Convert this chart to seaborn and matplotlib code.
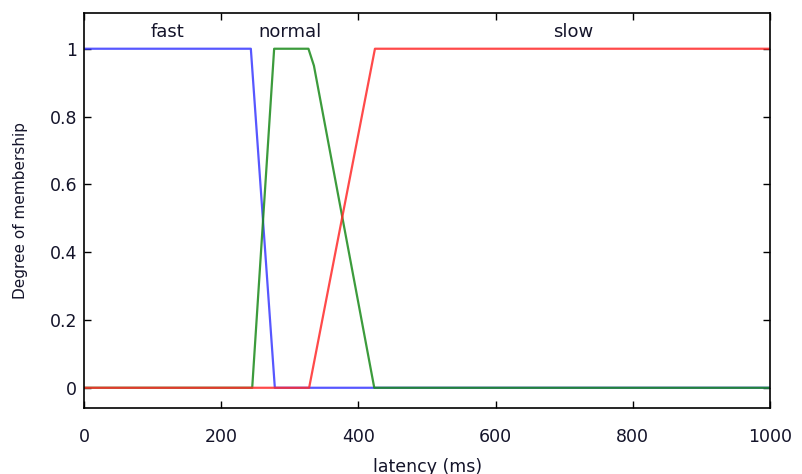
import numpy as np
import pandas as pd
import matplotlib
matplotlib.use("Agg")
import matplotlib.pyplot as plt
import seaborn as sns

# membership function breakpoints (latency in ms, degree)
fast_x = [0, 243, 278, 1000]
fast_y = [1, 1, 0, 0]
normal_x = [0, 245, 277, 327, 335, 423, 1000]
normal_y = [0, 0, 1, 1, 0.95, 0, 0]
slow_x = [0, 328, 424, 1000]
slow_y = [0, 0, 1, 1]

names = ["fast", "normal", "slow"]
colors = ["#3a3aff", "#1a8a1a", "#ff2a2a"]
label_x = [122, 300, 713]

sns.set_style("ticks")
plt.rcParams["font.family"] = ["DejaVu Sans"]
txt = "#14142a"

df = pd.concat([
    pd.DataFrame({"latency": fast_x, "degree": fast_y, "mf": "fast"}),
    pd.DataFrame({"latency": normal_x, "degree": normal_y, "mf": "normal"}),
    pd.DataFrame({"latency": slow_x, "degree": slow_y, "mf": "slow"}),
])

fig = plt.figure(figsize=(8.02, 4.74), dpi=100)
ax = fig.add_axes([0.105, 0.139, 0.855, 0.834])

sns.lineplot(data=df, x="latency", y="degree", hue="mf", hue_order=names,
             palette=colors, sort=False, estimator=None, linewidth=1.6,
             alpha=0.85, legend=False, ax=ax)

for n, lx in zip(names, label_x):
    ax.text(lx, 1.05, n, ha="center", va="center", fontsize=13, color=txt)

ax.set_xlim(0, 1000)
ax.set_ylim(-0.06, 1.106)
ax.set_xticks([0, 200, 400, 600, 800, 1000])
ax.set_yticks([0, 0.2, 0.4, 0.6, 0.8, 1])
ax.set_yticklabels(["0", "0.2", "0.4", "0.6", "0.8", "1"])
ax.tick_params(direction="in", length=5, width=1, top=True, right=True,
               labelsize=12.5, colors="black", labelcolor=txt)
ax.tick_params(axis="x", pad=14)
ax.tick_params(axis="y", pad=5)
for s in ax.spines.values():
    s.set_linewidth(1.2)
    s.set_color("black")

ax.set_xlabel("latency (ms)", fontsize=12.5, color=txt)
ax.xaxis.set_label_coords(0.5, -0.125)
ax.set_ylabel("Degree of membership", fontsize=11, color=txt)
ax.yaxis.set_label_coords(-0.082, 0.5)

plt.savefig("out.png", dpi=100)
